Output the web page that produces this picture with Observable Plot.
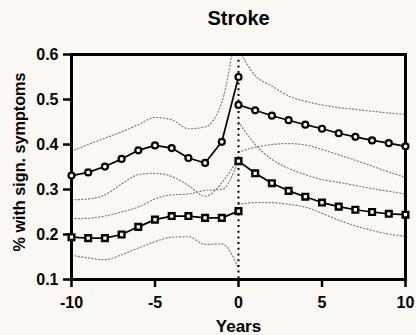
<!DOCTYPE html>
<html><head><meta charset="utf-8">
<script src="https://cdn.jsdelivr.net/npm/d3@7"></script>
<script src="https://cdn.jsdelivr.net/npm/@observablehq/plot@0.6"></script>
<style>
html,body{margin:0;padding:0;background:#fcf9f4;}
#chart svg{display:block;}
</style></head><body><div id="chart"></div>
<script>
const title = "Stroke";
const xLabel = "Years";
const yLabel = "% with sign. symptoms";
const xTicks = [-10, -5, 0, 5, 10];
const yTicks = [0.1, 0.2, 0.3, 0.4, 0.5, 0.6];

const yearsPre = [-10, -9, -8, -7, -6, -5, -4, -3, -2, -1, 0];
const yearsPost = [0, 1, 2, 3, 4, 5, 6, 7, 8, 9, 10];

// circles (upper group)
const circlePre   = [0.331, 0.338, 0.351, 0.368, 0.387, 0.398, 0.392, 0.370, 0.359, 0.406, 0.550];
const circlePreHi = [0.385, 0.400, 0.414, 0.428, 0.444, 0.460, 0.455, 0.435, 0.439, 0.494, 0.700];
const circlePreLo = [0.277, 0.279, 0.288, 0.312, 0.333, 0.336, 0.329, 0.309, 0.285, 0.315, 0.370];
const circlePost   = [0.488, 0.476, 0.464, 0.454, 0.444, 0.435, 0.425, 0.417, 0.409, 0.403, 0.396];
const circlePostHi = [0.612, 0.553, 0.530, 0.508, 0.496, 0.488, 0.482, 0.478, 0.474, 0.470, 0.467];
const circlePostLo = [0.450, 0.400, 0.367, 0.347, 0.333, 0.322, 0.316, 0.309, 0.302, 0.296, 0.290];

// squares (lower group)
const squarePre   = [0.194, 0.192, 0.192, 0.200, 0.217, 0.233, 0.241, 0.241, 0.237, 0.237, 0.252];
const squarePreHi = [0.235, 0.236, 0.241, 0.250, 0.261, 0.279, 0.288, 0.290, 0.298, 0.300, 0.365];
const squarePreLo = [0.154, 0.148, 0.144, 0.155, 0.170, 0.184, 0.194, 0.195, 0.178, 0.179, 0.125];
const squarePost   = [0.363, 0.336, 0.314, 0.297, 0.284, 0.271, 0.262, 0.255, 0.250, 0.246, 0.244];
const squarePostHi = [0.383, 0.394, 0.400, 0.402, 0.399, 0.389, 0.377, 0.365, 0.352, 0.339, 0.327];
const squarePostLo = [0.267, 0.271, 0.271, 0.267, 0.261, 0.247, 0.232, 0.219, 0.209, 0.201, 0.196];

const rows = (xs, ys) => xs.map((x, i) => ({x, y: ys[i]}));
const bg = "#fcf9f4";
const font = "'Liberation Sans', Arial, Helvetica, sans-serif";
const ci = {x: "x", y: "y", stroke: "#808080", strokeWidth: 1.2, strokeDasharray: "1.2 2.2", curve: "monotone-x", clip: true};
const ln = {x: "x", y: "y", stroke: "#000", strokeWidth: 1.7};

const ciSets = [circlePreHi, circlePreLo, squarePreHi, squarePreLo].map(s => rows(yearsPre, s))
  .concat([circlePostHi, circlePostLo, squarePostHi, squarePostLo].map(s => rows(yearsPost, s)));

const chart = Plot.plot({
  width: 416, height: 335,
  marginLeft: 71, marginRight: 11, marginTop: 54, marginBottom: 56,
  style: {background: bg, fontFamily: font, color: "#000"},
  x: {domain: [-10, 10]},
  y: {domain: [0.1, 0.6]},
  marks: [
    ...ciSets.map(d => Plot.line(d, ci)),
    Plot.ruleX([0], {stroke: "#000", strokeWidth: 2, strokeDasharray: "2 3.7"}),
    Plot.line(rows(yearsPre, circlePre), ln),
    Plot.line(rows(yearsPost, circlePost), ln),
    Plot.line(rows(yearsPre, squarePre), ln),
    Plot.line(rows(yearsPost, squarePost), ln),
    Plot.frame({stroke: "#000", strokeWidth: 3}),
    Plot.axisX({ticks: xTicks, tickFormat: d => String(d), tickSize: 8, tickPadding: 9, fontSize: 16, fontWeight: "bold", strokeWidth: 2.5, label: null}),
    Plot.axisY({ticks: yTicks, tickFormat: d => d.toFixed(1), tickSize: 8, tickPadding: 5, fontSize: 16, fontWeight: "bold", strokeWidth: 2.5, label: null}),
    Plot.dot(rows(yearsPre, circlePre), {x: "x", y: "y", r: 3, stroke: "#000", strokeWidth: 2.2, fill: bg}),
    Plot.dot(rows(yearsPost, circlePost), {x: "x", y: "y", r: 3, stroke: "#000", strokeWidth: 2.2, fill: bg}),
    Plot.dot(rows(yearsPre, squarePre), {x: "x", y: "y", symbol: "square", r: 3.2, stroke: "#000", strokeWidth: 2.4, fill: bg}),
    Plot.dot(rows(yearsPost, squarePost), {x: "x", y: "y", symbol: "square", r: 3.2, stroke: "#000", strokeWidth: 2.4, fill: bg}),
    Plot.text([title], {text: d => d, frameAnchor: "top", textAnchor: "middle", lineAnchor: "middle", dy: -36, fontSize: 20, fontWeight: "bold"}),
    Plot.text([xLabel], {text: d => d, frameAnchor: "bottom", textAnchor: "middle", lineAnchor: "middle", dy: 47, fontSize: 17, fontWeight: "bold"}),
    Plot.text([yLabel], {text: d => d, frameAnchor: "left", textAnchor: "middle", lineAnchor: "middle", dx: -52, dy: -5, rotate: -90, fontSize: 16.2, fontWeight: "bold"})
  ]
});
document.getElementById("chart").appendChild(chart);
</script>
</body></html>
